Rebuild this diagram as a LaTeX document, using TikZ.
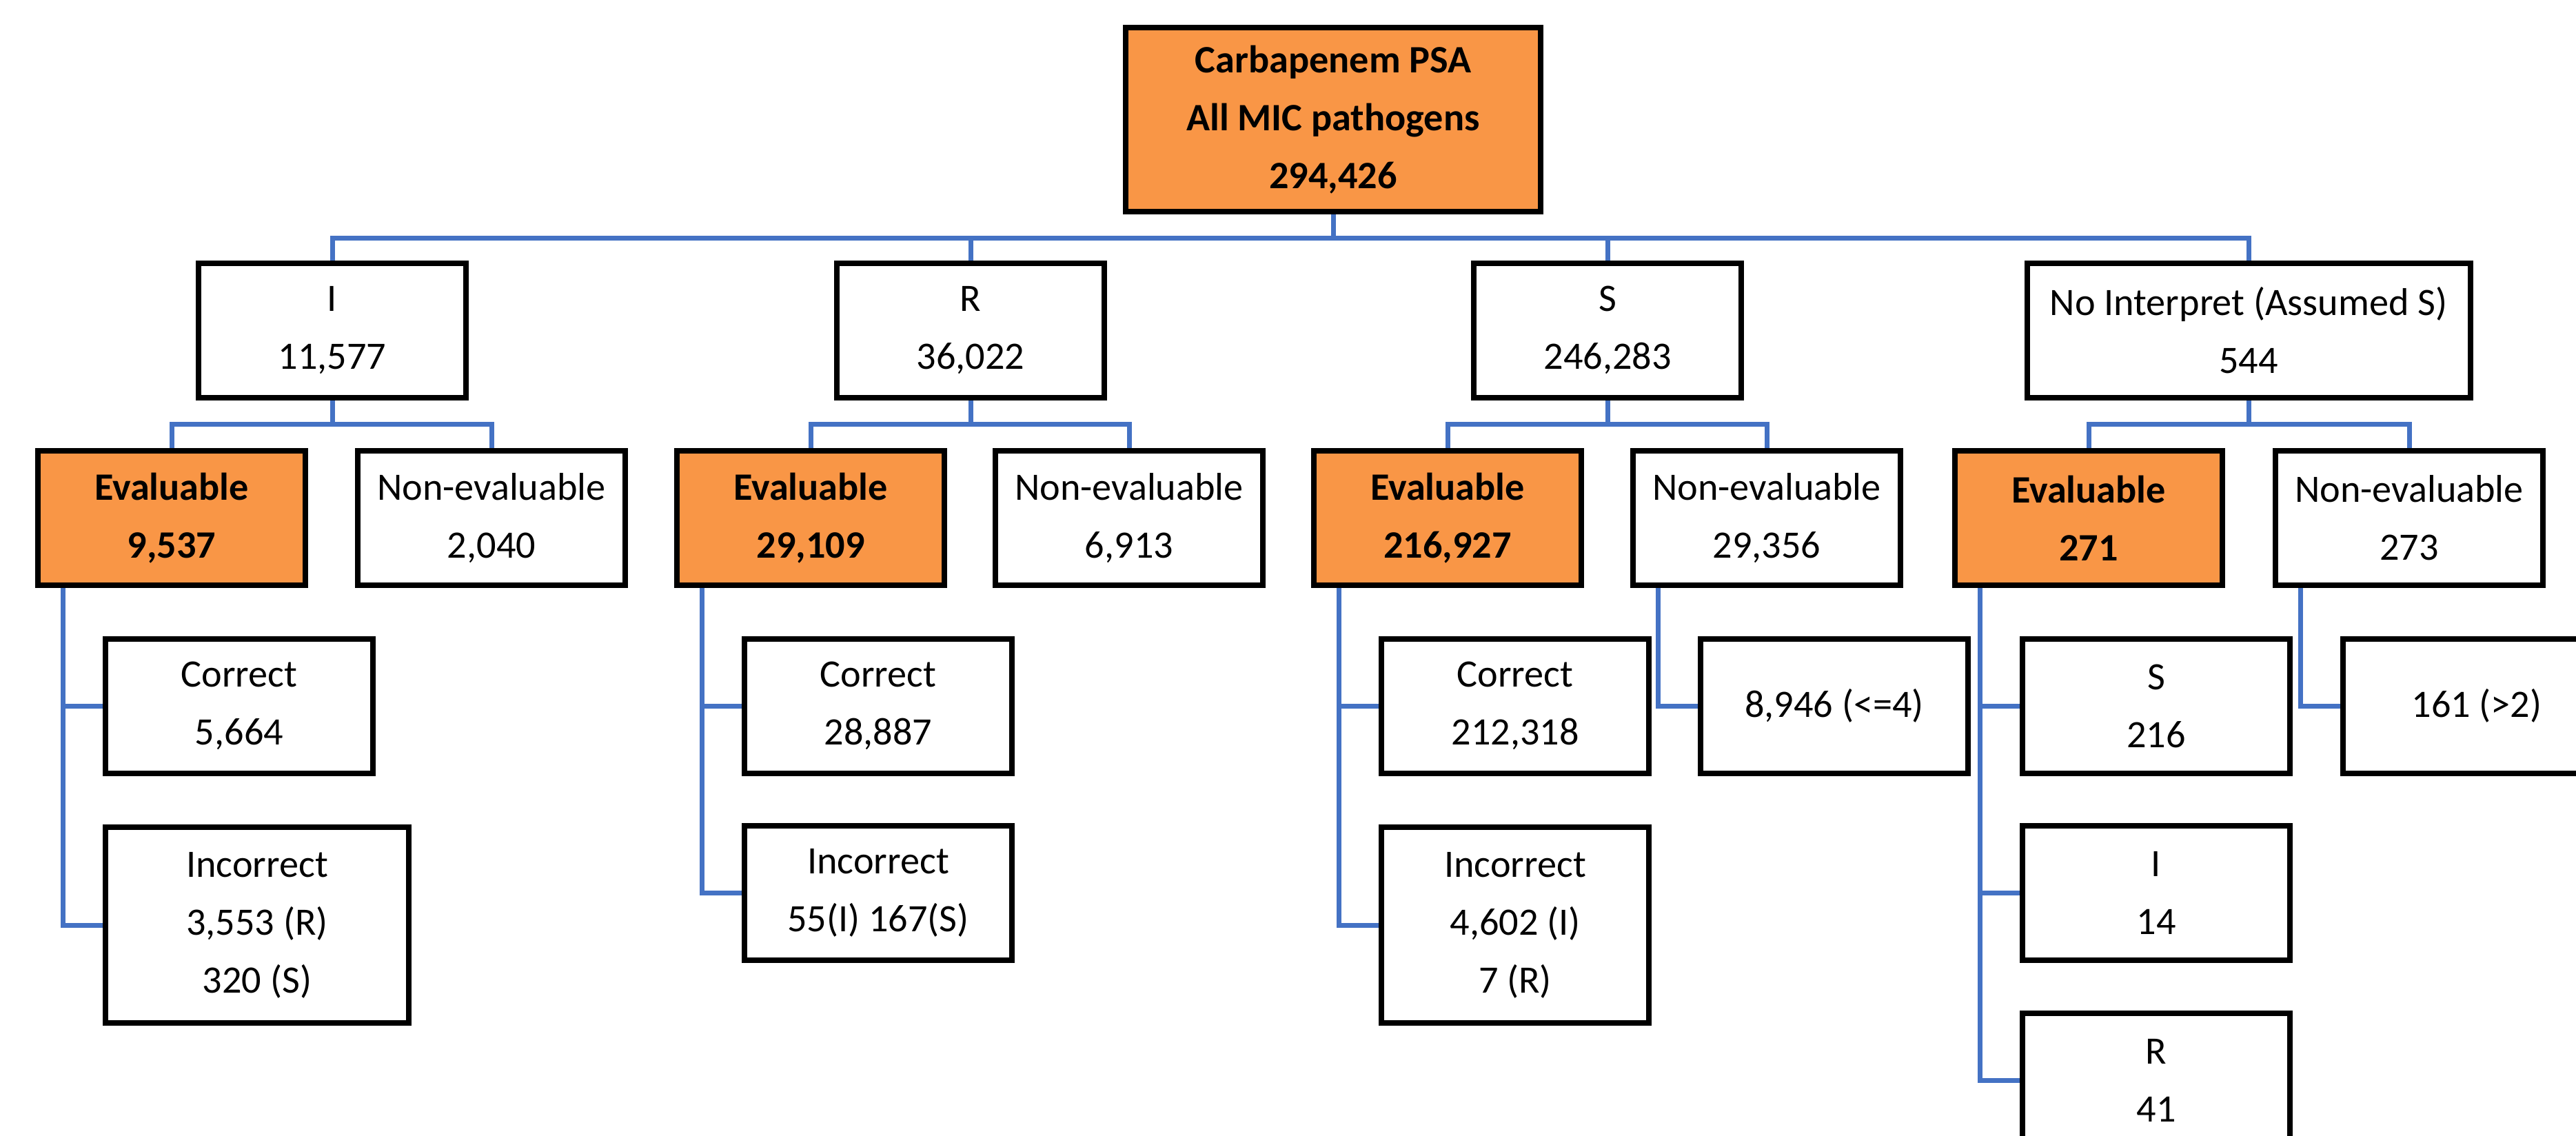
\documentclass[tikz,border=0pt]{standalone}
\usepackage{fontspec}
\setmainfont{Carlito}
\usepackage{tikz}
\usetikzlibrary{backgrounds}
\definecolor{evalorange}{RGB}{249,150,70}
\definecolor{linkblue}{RGB}{68,114,196}
\tikzset{
	box/.style={draw=black, line width=0.08cm, fill=white, minimum width=3.88cm, minimum height=1.95cm, align=center, inner sep=0pt, font=\fontsize{16}{23.9}\selectfont},
	evalbox/.style={box, fill=evalorange, font=\fontsize{16}{23.9}\selectfont\bfseries},
	link/.style={draw=linkblue, line width=0.07cm}
}

\begin{document}
\begin{tikzpicture}
			%%%%% START %%%%%
			\useasboundingbox (0, 0) rectangle (37.37, -16.48);
			\clip (0, 0) rectangle (37.37, -16.48);
			
			\node[evalbox, minimum width=6.02cm, minimum height=2.67cm] (root) at (19.34, -1.735) {Carbapenem PSA\\All MIC pathogens\\294,426};
			
			\node[box] (i) at (4.82, -4.79) {I\\11,577};
			\node[box] (r) at (14.08, -4.79) {R\\36,022};
			\node[box] (s) at (23.32, -4.79) {S\\246,283};
			\node[box, minimum width=6.43cm] (ni) at (32.62, -4.79) {No Interpret (Assumed S)\\544};
			
			\node[evalbox] (ieval) at (2.49, -7.515) {Evaluable\\9,537};
			\node[box] (inon) at (7.13, -7.515) {Non-evaluable\\2,040};
			\node[evalbox] (reval) at (11.76, -7.515) {Evaluable\\29,109};
			\node[box] (rnon) at (16.38, -7.515) {Non-evaluable\\6,913};
			\node[evalbox] (seval) at (21.00, -7.515) {Evaluable\\216,927};
			\node[box] (snon) at (25.63, -7.515) {Non-evaluable\\29,356};
			\node[evalbox] (nieval) at (30.30, -7.515) {Evaluable\\271};
			\node[box] (ninon) at (34.95, -7.515) {Non-evaluable\\273};
			
			\node[box] (icor) at (3.47, -10.24) {Correct\\5,664};
			\node[box, minimum width=4.4cm, minimum height=2.84cm] (iinc) at (3.73, -13.42) {Incorrect\\3,553 (R)\\320 (S)};
			
			\node[box] (rcor) at (12.74, -10.24) {Correct\\28,887};
			\node[box] (rinc) at (12.74, -12.95) {Incorrect\\55(I) 167(S)};
			
			\node[box] (scor) at (21.98, -10.24) {Correct\\212,318};
			\node[box, minimum height=2.84cm] (sinc) at (21.98, -13.42) {Incorrect\\4,602 (I)\\7 (R)};
			\node[box] (sover) at (26.61, -10.24) {8,946 (<=4)};
			
			\node[box] (nis) at (31.28, -10.24) {S\\216};
			\node[box] (nii) at (31.28, -12.95) {I\\14};
			\node[box] (nir) at (31.28, -15.67) {R\\41};
			\node[box] (niover) at (35.93, -10.24) {161 (>2)};
			
			\begin{scope}[on background layer]
			\foreach \kid in {i, r, s, ni}
				\draw[link] (root.south) -- (root.south |- 0, -3.45) -| (\kid.north);
			\foreach \top/\left/\right in {i/ieval/inon, r/reval/rnon, s/seval/snon, ni/nieval/ninon}{
				\draw[link] (\top.south) -- (\top.south |- 0, -6.15) -| (\left.north);
				\draw[link] (\top.south) -- (\top.south |- 0, -6.15) -| (\right.north);
			}
			\foreach \from/\kid in {ieval/icor, ieval/iinc, reval/rcor, reval/rinc, seval/scor, seval/sinc, snon/sover, nieval/nis, nieval/nii, nieval/nir, ninon/niover}
				\draw[link] ([xshift=0.4cm]\from.south west) |- (\kid.west);
			\end{scope}
			
			%%%%% END %%%%%
\end{tikzpicture}
\end{document}
